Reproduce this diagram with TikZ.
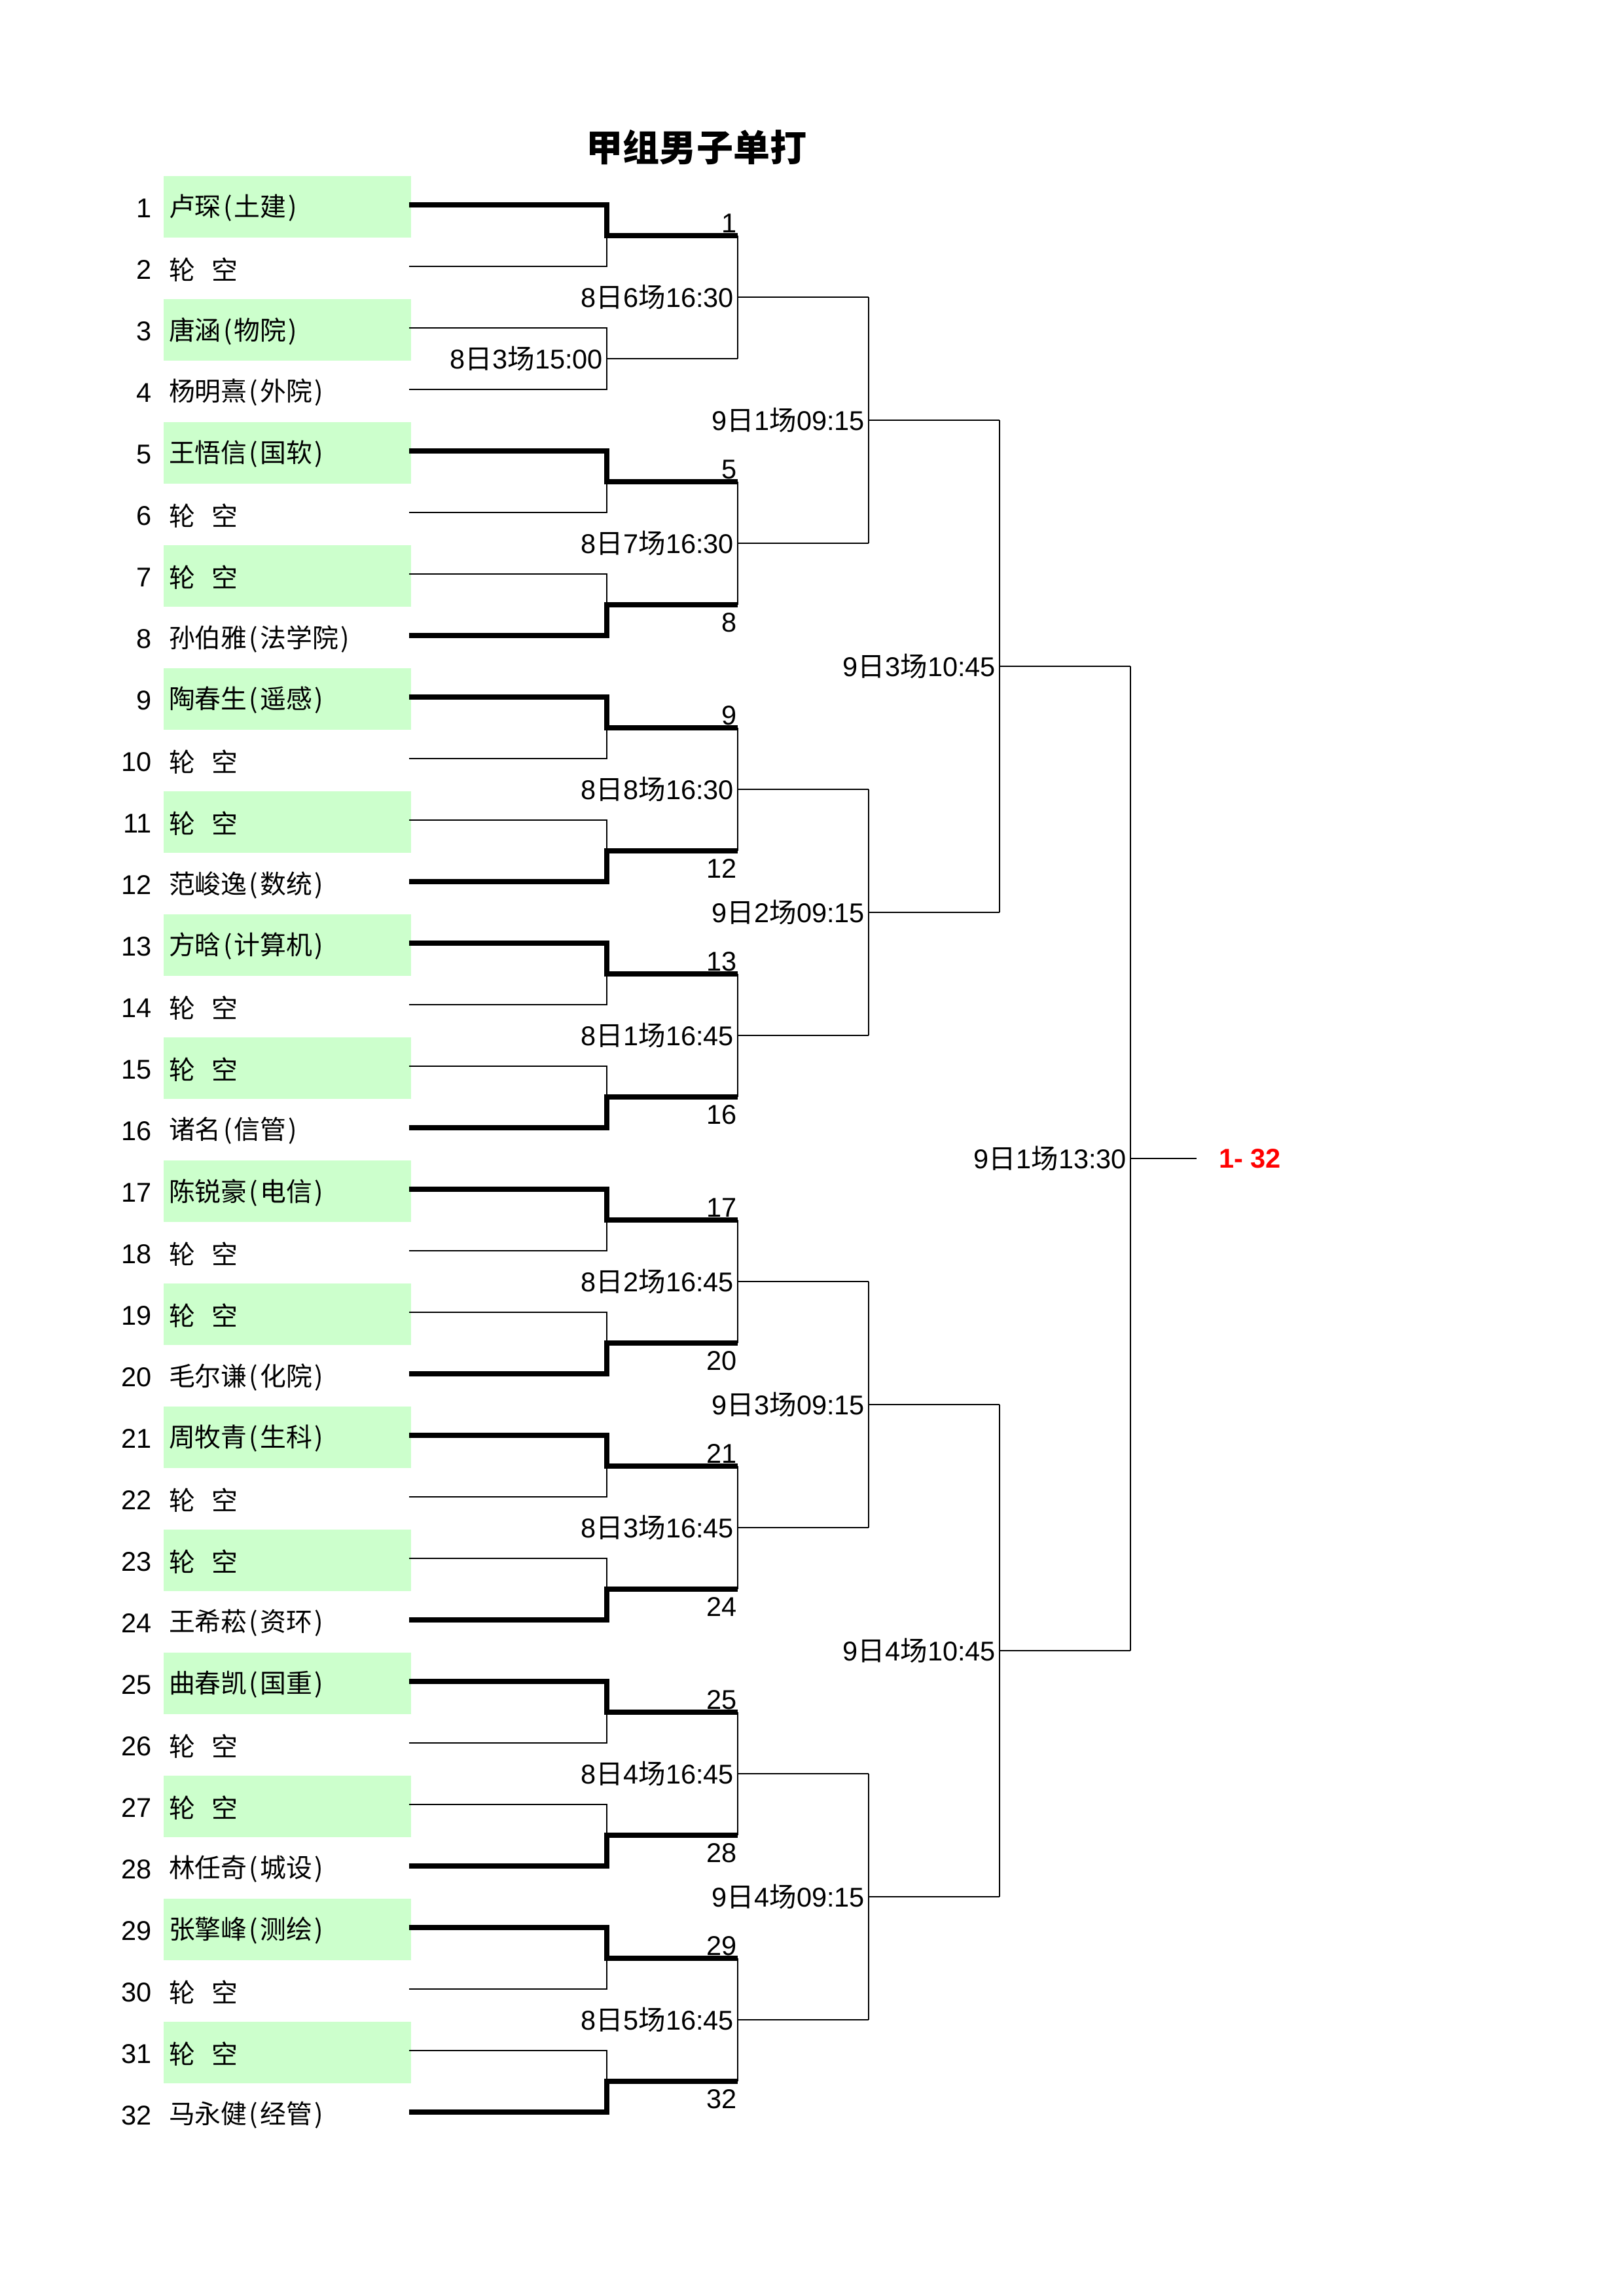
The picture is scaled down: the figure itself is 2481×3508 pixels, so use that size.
\documentclass[tikz,border=0pt]{standalone}
\usepackage{fontspec}
\setmainfont{Liberation Sans}
\newfontfamily\cjk{Noto Sans CJK SC}
\usepackage{tikz}
\usetikzlibrary{calc, positioning}
\tikzset{>=latex}
\definecolor{seedgreen}{HTML}{CCFFCC}
\tikzset{
    winner/.style={line width=2.1pt},
    timelbl/.style={anchor=east, inner sep=1.2pt},
    seednum/.style={anchor=east, inner sep=0pt},
    player/.style={anchor=west, inner sep=0pt, font=\cjk\fontsize{9.6}{12}\selectfont},
    advnum/.style={anchor=base east, inner sep=0pt}
}
\newcommand\when[3]{#1{\cjk 日}#2{\cjk 场}#3}
\newcommand\who[2]{#1\makebox[.5em]{(}#2\makebox[.5em]{)}}
\newcommand\bye{轮\hspace{.65em}空}

\begin{document}
\begin{tikzpicture}[x=.084667mm, y=-.084667mm, line width=.55pt, font=\fontsize{10}{12}\selectfont]
    \useasboundingbox (0, 0) rectangle (2481, 3508);
    \node[font=\cjk\bfseries\fontsize{13.5}{16}\selectfont] (title) at (1064, 225) {甲组男子单打};
    \foreach \name [count=\i] in {\who{卢琛}{土建}, \bye, \who{唐涵}{物院}, \who{杨明熹}{外院},
        \who{王悟信}{国软}, \bye, \bye, \who{孙伯雅}{法学院},
        \who{陶春生}{遥感}, \bye, \bye, \who{范峻逸}{数统},
        \who{方晗}{计算机}, \bye, \bye, \who{诸名}{信管},
        \who{陈锐豪}{电信}, \bye, \bye, \who{毛尔谦}{化院},
        \who{周牧青}{生科}, \bye, \bye, \who{王希菘}{资环},
        \who{曲春凯}{国重}, \bye, \bye, \who{林任奇}{城设},
        \who{张擎峰}{测绘}, \bye, \bye, \who{马永健}{经管}}{
        \pgfmathsetmacro\y{313+94*(\i-1)}
        \ifodd\i\relax \fill[seedgreen](250, \y-44) rectangle (628, \y+50); \fi
        \node[seednum] (n\i) at (233, \y+5) {\i};
        \node[player] (p\i) at (257, \y+5) {\name};
        \coordinate (r\i) at (625, \y);
    }
    % first round brackets
    \foreach \k in {1,...,16}{
        \pgfmathtruncatemacro\a{2*\k-1}
        \pgfmathtruncatemacro\b{2*\k}
        \coordinate (m\k) at ($(r\a)!.5!(r\b)+(302, 0)$);
        \coordinate (o1-\k) at ($(m\k)+(200, 0)$);
        \draw (r\a) -| (m\k) |- (r\b);
        \draw (m\k) -- (o1-\k);
    }
    \foreach \k/\a in {1/1, 3/5, 5/9, 7/13, 9/17, 11/21, 13/25, 15/29}{
        \draw[winner] (r\a) -| (m\k) -- (o1-\k);
        \node[advnum] (w\a) at ([shift={(0pt, 1.2pt)}]o1-\k) {\a};
    }
    \foreach \k/\b in {4/8, 6/12, 8/16, 10/20, 12/24, 14/28, 16/32}{
        \draw[winner] (r\b) -| (m\k) -- (o1-\k);
        \node[advnum] (w\b) at ([shift={(0pt, -10.1pt)}]o1-\k) {\b};
    }
    % later rounds
    \foreach \r/\len/\n in {2/200/8, 3/200/4, 4/200/2, 5/101/1}{
        \pgfmathtruncatemacro\pr{\r-1}
        \foreach \j in {1,...,\n}{
            \pgfmathtruncatemacro\ja{2*\j-1}
            \pgfmathtruncatemacro\jb{2*\j}
            \coordinate (c\r-\j) at ($(o\pr-\ja)!.5!(o\pr-\jb)$);
            \coordinate (o\r-\j) at ($(c\r-\j)+(\len, 0)$);
            \draw (o\pr-\ja) -- (o\pr-\jb);
            \draw (c\r-\j) -- (o\r-\j);
        }
    }
    \foreach \where/\d/\g/\t in {m2/8/3/15:00, c2-1/8/6/16:30, c2-2/8/7/16:30, c2-3/8/8/16:30,
        c2-4/8/1/16:45, c2-5/8/2/16:45, c2-6/8/3/16:45, c2-7/8/4/16:45, c2-8/8/5/16:45,
        c3-1/9/1/09:15, c3-2/9/2/09:15, c3-3/9/3/09:15, c3-4/9/4/09:15,
        c4-1/9/3/10:45, c4-2/9/4/10:45, c5-1/9/1/13:30}
        \node[timelbl] at (\where) {\when{\d}{\g}{\t}};
    \node[right=8pt of o5-1, inner sep=0pt, text=red, font=\bfseries] (champ) {1- 32};
\end{tikzpicture}
\end{document}
